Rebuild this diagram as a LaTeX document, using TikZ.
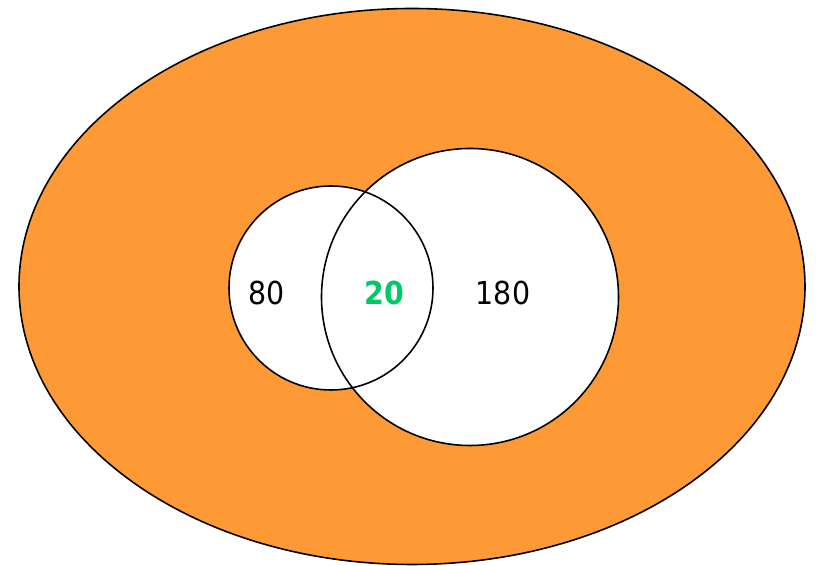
\documentclass[tikz,border=0pt]{standalone}
\usepackage{fontspec}
\setmainfont{DejaVu Sans Condensed}
\usetikzlibrary{positioning}
\definecolor{venorange}{HTML}{FE9A35}
\definecolor{vengreen}{HTML}{00C864}

\begin{document}
\begin{tikzpicture}[
  setline/.style={draw=black, line width=0.45pt},
  num/.style={font=\fontsize{9}{11}\selectfont, inner sep=0pt},
  font=\small
]
\useasboundingbox (0,0) rectangle (8.16,5.66);

% universe
\draw[setline, fill=venorange] (4.12,2.795) ellipse [x radius=3.93cm, y radius=2.78cm];

% the two sets
\fill[white] (3.31,2.78) circle (1.02);
\fill[white] (4.70,2.69) circle (1.485);
\draw[setline] (3.31,2.78) circle (1.02);
\draw[setline] (4.70,2.69) circle (1.485);

\node[num] (onlyA) at (2.67,2.73) {80};
\node[num, text=vengreen, font=\fontsize{9}{11}\selectfont\bfseries] (both) at (3.84,2.73) {20};
\node[num] (onlyB) at (5.03,2.73) {180};

\end{tikzpicture}
\end{document}
